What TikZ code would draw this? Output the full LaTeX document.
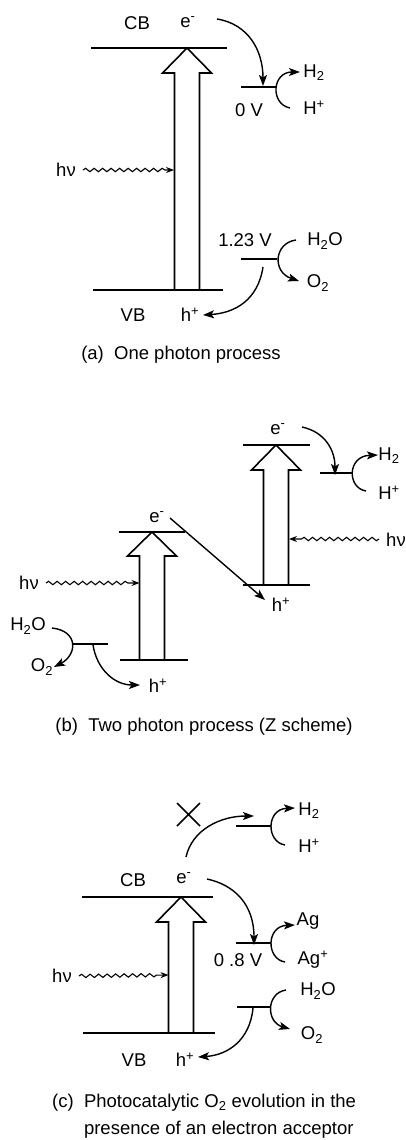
\documentclass[tikz,border=0pt]{standalone}
\usepackage{fontspec}
\setmainfont{Liberation Sans}
\usetikzlibrary{arrows.meta,decorations.pathmorphing}
\newcommand\bandarrow[4]{%
  \draw[bigarrow] (#1-12.5,#4) -- (#1-12.5,#3) -- (#1-24.5,#3) -- (#1,#2) -- (#1+24.5,#3) -- (#1+12.5,#3) -- (#1+12.5,#4);}
\begin{document}
\begin{tikzpicture}[x=1pt,y=-1pt,
  lbl/.style={inner sep=0pt, font=\fontsize{18.5}{21}\selectfont},
  captxt/.style={inner sep=0pt, font=\fontsize{18.5}{27}\selectfont, align=left},
  level/.style={line width=1.5pt},
  bigarrow/.style={line width=1.6pt, line join=miter},
  react/.style={line width=1.4pt, -{Stealth[length=11pt,width=8pt,inset=2.5pt]}},
  photon/.style={line width=1.1pt, decorate,
     decoration={snake, amplitude=1.7pt, segment length=8.5pt, post length=9pt},
     -{Stealth[length=8pt,width=6pt]}}]
\useasboundingbox (0,0) rectangle (406,1140);

% ---------------- panel (a)
\node[lbl] (cbA) at (137,23) {CB};
\node[lbl] (eA) at (188,22) {e\textsuperscript{-}};
\draw[level] (91,48) -- (227,48);
\bandarrow{187}{48}{73}{290}
\draw[level] (93,290) -- (223,290);
\node[lbl] (hvA) at (66,170) {hν};
\coordinate (phA) at (174,170);
\draw[photon] ([xshift=7pt]hvA.east) -- (phA);
\coordinate (eAs) at (217,19);
\coordinate (eAt) at (263,86);
\draw[react] (eAs) .. controls (248,24) and (263,50) .. (eAt);
\draw[level] (241,87) -- (277,87);
\node[lbl] (vA0) at (249,110) {0 V};
\coordinate (hpAs) at (290,108);
\coordinate (h2At) at (300,72);
\draw[react] (hpAs) .. controls (270,104) and (272,72) .. (h2At);
\node[lbl] (H2A) at (314,73) {H\textsubscript{2}};
\node[lbl] (HpA) at (314,108) {H\textsuperscript{+}};
\node[lbl] (v123) at (245,240) {1.23 V};
\draw[level] (241,259) -- (277,259);
\node[lbl] (h2oA) at (325,241) {H\textsubscript{2}O};
\node[lbl] (o2A) at (318,283) {O\textsubscript{2}};
\coordinate (wAs) at (296,240);
\coordinate (oAt) at (299,281);
\draw[react] (wAs) .. controls (274,243) and (272,272) .. (oAt);
\node[lbl] (vbA) at (133,315) {VB};
\node[lbl] (hA) at (190,315) {h\textsuperscript{+}};
\coordinate (hAs) at (263,267);
\coordinate (hAt) at (203,315);
\draw[react] (hAs) .. controls (258,300) and (235,313) .. (hAt);
\node[captxt] (capA) at (181,355) {(a)\ \ One photon process};

% ---------------- panel (b)
\node[lbl] (eB2) at (278,429) {e\textsuperscript{-}};
\draw[level] (243,445) -- (310,445);
\bandarrow{276}{445}{470}{585}
\draw[level] (243,585) -- (310,585);
\coordinate (eB2s) at (302,427);
\coordinate (eB2t) at (335,475);
\draw[react] (eB2s) .. controls (325,432) and (335,450) .. (eB2t);
\draw[level] (320,473) -- (352,473);
\coordinate (hpBs) at (366,491);
\coordinate (h2Bt) at (378,455);
\draw[react] (hpBs) .. controls (347,488) and (347,456) .. (h2Bt);
\node[lbl] (H2B) at (389,456) {H\textsubscript{2}};
\node[lbl] (HpB) at (389,493) {H\textsuperscript{+}};
\node[lbl] (hvB2) at (396,540) {hν};
\coordinate (phB2s) at (379,539);
\coordinate (phB2t) at (289,539);
\draw[photon] (phB2s) -- (phB2t);
\node[lbl] (eB1) at (157,517) {e\textsuperscript{-}};
\draw[level] (119,532) -- (185,532);
\bandarrow{152}{532}{556}{660}
\draw[level] (120,660) -- (188,660);
\node[lbl] (hB2) at (281,605) {h\textsuperscript{+}};
\coordinate (dBs) at (170,518);
\coordinate (dBt) at (265,600);
\draw[react] (dBs) -- (dBt);
\node[lbl] (hvB1) at (29,583) {hν};
\coordinate (phB1) at (139.5,583);
\draw[photon] ([xshift=7pt]hvB1.east) -- (phB1);
\node[lbl] (h2oB) at (28,626) {H\textsubscript{2}O};
\node[lbl] (o2B) at (42,667) {O\textsubscript{2}};
\draw[level] (72,644) -- (108,644);
\coordinate (wBs) at (52,628);
\coordinate (oBt) at (54,667);
\draw[react] (wBs) .. controls (79,631) and (77,655) .. (oBt);
\node[lbl] (hB1) at (158,686) {h\textsuperscript{+}};
\coordinate (hBs) at (93,645);
\coordinate (hBt) at (140,685);
\draw[react] (hBs) .. controls (97,670) and (115,685) .. (hBt);
\node[captxt] (capB) at (204,727) {(b)\ \ Two photon process (Z scheme)};

% ---------------- panel (c)
\draw[level] (177,803) -- (200,826) (177,826) -- (200,803);
\coordinate (xCs) at (186,857);
\coordinate (xCt) at (254,816);
\draw[react] (xCs) .. controls (192,830) and (220,816) .. (xCt);
\draw[level] (236,826) -- (271,826);
\coordinate (hpCs) at (285,845);
\coordinate (h2Ct) at (295,808);
\draw[react] (hpCs) .. controls (266,842) and (266,809) .. (h2Ct);
\node[lbl] (H2C) at (309,811) {H\textsubscript{2}};
\node[lbl] (HpC) at (309,846) {H\textsuperscript{+}};
\node[lbl] (cbC) at (133,880) {CB};
\node[lbl] (eC) at (184,878) {e\textsuperscript{-}};
\draw[level] (82,897) -- (213,897);
\bandarrow{181}{897}{922}{1033}
\coordinate (eCs) at (207,879);
\coordinate (eCt) at (254,945);
\draw[react] (eCs) .. controls (235,885) and (254,905) .. (eCt);
\draw[level] (236,943) -- (271,943);
\coordinate (agpCs) at (285,962);
\coordinate (agCt) at (295,925);
\draw[react] (agpCs) .. controls (266,959) and (266,926) .. (agCt);
\node[lbl] (agC) at (308,921) {Ag};
\node[lbl] (agpC) at (313,960) {Ag\textsuperscript{+}};
\node[lbl] (v08) at (238,960) {0 .8 V};
\node[lbl] (hvC) at (62,976) {hν};
\coordinate (phC) at (168.5,975);
\draw[photon] ([xshift=7pt]hvC.east) -- (phC);
\node[lbl] (h2oC) at (318,991) {H\textsubscript{2}O};
\node[lbl] (o2C) at (312,1035) {O\textsubscript{2}};
\draw[level] (237,1007) -- (270,1007);
\coordinate (wCs) at (286,990);
\coordinate (oCt) at (290,1029);
\draw[react] (wCs) .. controls (266,993) and (266,1022) .. (oCt);
\draw[level] (83,1033) -- (215,1033);
\node[lbl] (vbC) at (134,1060) {VB};
\node[lbl] (hC) at (185,1060) {h\textsuperscript{+}};
\coordinate (hCs) at (253,1008);
\coordinate (hCt) at (198,1057);
\draw[react] (hCs) .. controls (250,1040) and (228,1055) .. (hCt);
\node[captxt, anchor=west] (capC) at (52,1116) {(c)\ \ Photocatalytic O\textsubscript{2} evolution in the\\\phantom{(c)\ \ }presence of an electron acceptor};
\end{tikzpicture}
\end{document}
